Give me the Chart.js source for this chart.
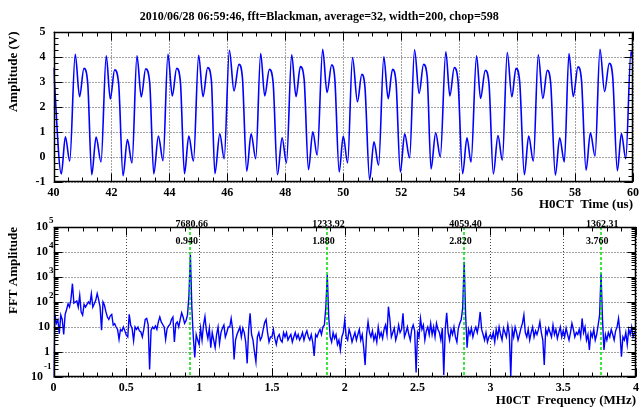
<!DOCTYPE html>
<html>
<head>
<meta charset="utf-8">
<script src="https://cdn.jsdelivr.net/npm/chart.js@4.4.0/dist/chart.umd.min.js"></script>
<style>
html, body { margin: 0; padding: 0; background: #fff; }
.box { position: relative; width: 643px; }
</style>
</head>
<body>
<div class="box" style="height:212px"><canvas id="waveCanvas"></canvas></div>
<div class="box" style="height:196px"><canvas id="fftCanvas"></canvas></div>
<script>
var titleText = '2010/06/28 06:59:46, fft=Blackman, average=32, width=200, chop=598';

// waveform (time in us, amplitude in V)
var timeUs = [40.00, 40.27, 40.41, 40.56, 40.75, 40.90, 41.05, 41.18, 41.32, 41.47, 41.64, 41.82, 41.96, 42.11, 42.25,
    42.40, 42.55, 42.71, 42.88, 43.03, 43.18, 43.32, 43.46, 43.62, 43.78, 43.95, 44.10, 44.25, 44.38, 44.52,
    44.67, 44.83, 45.01, 45.16, 45.32, 45.45, 45.57, 45.74, 45.89, 46.07, 46.23, 46.40, 46.52, 46.67, 46.82,
    46.98, 47.15, 47.29, 47.45, 47.58, 47.73, 47.89, 48.04, 48.22, 48.37, 48.52, 48.65, 48.80, 48.95, 49.10,
    49.29, 49.44, 49.60, 49.71, 49.86, 50.00, 50.15, 50.32, 50.49, 50.64, 50.75, 50.91, 51.06, 51.22, 51.40,
    51.55, 51.70, 51.82, 51.97, 52.12, 52.29, 52.46, 52.62, 52.77, 52.90, 53.03, 53.19, 53.35, 53.54, 53.68,
    53.83, 53.96, 54.12, 54.27, 54.41, 54.60, 54.74, 54.90, 55.03, 55.18, 55.34, 55.49, 55.66, 55.82, 55.96,
    56.09, 56.25, 56.40, 56.56, 56.73, 56.89, 57.04, 57.16, 57.32, 57.47, 57.63, 57.79, 57.94, 58.10, 58.22,
    58.38, 58.53, 58.69, 58.86, 59.02, 59.18, 59.30, 59.46, 59.60, 59.75, 59.93, 60.00];
var ampV = [3.56, -0.68, 0.80, -0.17, 4.09, 2.40, 3.53, 2.96, -0.71, 0.79, -0.20, 4.03, 2.31, 3.47, 2.89,
    -0.75, 0.69, -0.24, 4.03, 2.39, 3.51, 2.96, -0.68, 0.83, -0.15, 4.09, 2.43, 3.53, 2.99, -0.67,
    0.83, -0.17, 4.05, 2.40, 3.56, 3.03, -0.67, 0.92, -0.07, 4.25, 2.63, 3.69, 3.16, -0.57, 0.92,
    -0.07, 4.12, 2.43, 3.49, 2.96, -0.71, 0.76, -0.24, 4.07, 2.40, 3.60, 3.09, -0.51, 1.00, 0.07,
    4.29, 2.56, 3.67, 3.09, -0.60, 0.83, -0.24, 3.96, 2.20, 3.29, 2.76, -0.91, 0.60, -0.33, 3.99,
    2.32, 3.49, 2.99, -0.60, 0.92, -0.04, 4.27, 2.53, 3.69, 3.16, -0.48, 0.96, 0.00, 4.19, 2.43,
    3.56, 3.03, -0.67, 0.76, -0.21, 4.03, 2.33, 3.45, 2.92, -0.68, 0.85, -0.13, 4.16, 2.39, 3.53,
    2.99, -0.71, 0.83, -0.17, 4.07, 2.33, 3.45, 2.92, -0.73, 0.76, -0.20, 4.12, 2.40, 3.59, 3.09,
    -0.53, 0.96, 0.03, 4.29, 2.60, 3.73, 3.19, -0.55, 0.93, -0.07, 4.20, 3.83];

// FFT amplitude, one value every 0.01 MHz from 0 to 4 MHz
var fftStepMHz = 0.01;
var fftAmp = [
    0.08, 32, 14, 19, 5.4, 30, 20, 5, 32, 50,
    85, 63, 130, 540, 90, 100, 110, 63, 185, 40,
    30, 80, 63, 80, 100, 85, 215, 63, 85, 117,
    215, 125, 63, 7.4, 100, 74, 40, 25, 20, 28,
    32, 12, 13.5, 10, 8, 3.2, 8, 7, 10, 7,
    4.7, 4, 32, 12, 8.5, 2.8, 10, 8, 10, 7,
    6.3, 4, 8, 20, 22, 12.6, 0.2, 7.4, 10, 8.5,
    11, 8, 16, 25, 16, 12.6, 10, 3.2, 8.5, 11,
    12.6, 20, 25, 2.5, 13.5, 16, 10, 20, 37, 25,
    14, 18, 30, 180, 7680.66, 60, 4, 0.6, 5, 3,
    2, 9, 3, 12, 26, 7, 3.5, 9, 1.5, 6,
    3, 1.5, 5, 10, 2.2, 6, 9, 12, 4, 6,
    10, 10, 22, 8, 0.5, 3, 5, 7, 10, 4,
    9, 6, 2.5, 0.35, 8, 35, 5, 3, 1, 0.4,
    4, 6, 3, 4, 8, 15, 20, 6, 2.5, 4,
    4, 8, 3.5, 2, 4, 5, 3, 2.5, 6, 4,
    6, 3, 4, 5, 2.5, 4, 6, 3.5, 5, 3,
    4, 6, 3, 5, 7, 4, 3, 5, 2.5, 0.7,
    5, 4, 6, 8, 5, 10, 12, 60, 1233.92, 25,
    4, 2.5, 6, 3.5, 5, 2, 3, 1.2, 4, 6,
    19, 4, 3, 8, 5, 2.5, 4, 6, 3, 5,
    8, 3, 5, 1.5, 0.3, 5, 16, 6, 4, 7,
    3, 5, 2.5, 10, 4, 6, 3.5, 8, 12, 5,
    65, 20, 4, 6, 9, 3, 5, 12, 6, 8,
    35, 4, 6, 10, 5, 3, 8, 12, 7, 0.15,
    6, 4, 22, 8, 12, 3, 7, 10, 5, 14,
    5, 10, 4, 14, 8, 6, 3, 9, 0.12, 8,
    37, 6, 3, 8, 5, 10, 4, 2.5, 9, 14,
    20, 60, 4059.4, 30, 1.5, 8, 5, 9, 4, 7,
    10, 6, 12, 40, 8, 5, 3, 6, 2.5, 4,
    5, 3.5, 6, 2.5, 8, 4, 10, 5, 3, 9,
    6, 4, 12, 5, 0.1, 8, 4, 10, 6, 3,
    5, 9, 14, 30, 6, 4, 8, 3, 6, 10,
    4, 7, 5, 8, 16, 6, 3, 0.3, 8, 5,
    9, 6, 4, 12, 5, 8, 3.5, 6, 10, 4,
    7, 4, 9, 5, 3, 6, 14, 8, 4, 6,
    5, 8, 4, 22, 6, 10, 3, 5, 1.2, 6,
    4, 8, 3, 5, 12, 30, 1362.31, 20, 1.2, 5,
    3, 6, 4, 8, 5, 3, 7, 10, 22, 6,
    0.65, 4, 3, 6, 2, 8, 5, 10, 4, 6,
    7];

var peakMHz = [0.94, 1.88, 2.82, 3.76];
var peakAmpLabels = ['7680.66', '1233.92', '4059.40', '1362.31'];
var peakFreqLabels = ['0.940', '1.880', '2.820', '3.760'];
var fftDecades = [-1, 0, 1, 2, 3, 4, 5];

Chart.defaults.font.family = '"Liberation Serif", "DejaVu Serif", serif';
Chart.defaults.font.size = 12;
Chart.defaults.font.weight = 'bold';
Chart.defaults.color = '#000';

function steps(from, to, step) {
    var out = [];
    for (var v = from; v <= to + step / 1000; v += step) out.push(Math.round(v * 1000) / 1000);
    return out;
}

function plainTick(v) {
    return String(Math.round(v * 100) / 100);
}

// ROOT style frame: dotted grid, box, ticks inside on all four sides
var rootFrame = {
    id: 'rootFrame',
    beforeDatasetsDraw: function (chart, args, o) {
        var ctx = chart.ctx, a = chart.chartArea, xs = chart.scales.x, ys = chart.scales.y;
        ctx.save();
        ctx.strokeStyle = '#444';
        ctx.lineWidth = 1;
        ctx.setLineDash([1, 2]);
        ctx.beginPath();
        o.xGrid.forEach(function (v) {
            var px = Math.round(xs.getPixelForValue(v)) + 0.5;
            ctx.moveTo(px, a.top); ctx.lineTo(px, a.bottom);
        });
        o.yGrid.forEach(function (v) {
            var py = Math.round(ys.getPixelForValue(v)) + 0.5;
            ctx.moveTo(a.left, py); ctx.lineTo(a.right, py);
        });
        ctx.stroke();
        ctx.restore();
    },
    afterDraw: function (chart, args, o) {
        var ctx = chart.ctx, a = chart.chartArea, xs = chart.scales.x, ys = chart.scales.y;
        var L = Math.round(a.left) + 0.5, R = Math.round(a.right) - 0.5;
        var T = Math.round(a.top) + 0.5, B = Math.round(a.bottom) - 0.5;
        ctx.save();
        ctx.strokeStyle = '#000';
        ctx.lineWidth = 1;
        ctx.beginPath();
        function xt(list, len) {
            list.forEach(function (v) {
                var px = Math.round(xs.getPixelForValue(v)) + 0.5;
                ctx.moveTo(px, B); ctx.lineTo(px, B - len);
                ctx.moveTo(px, T); ctx.lineTo(px, T + len);
            });
        }
        function yt(list, len) {
            list.forEach(function (v) {
                var py = Math.round(ys.getPixelForValue(v)) + 0.5;
                ctx.moveTo(L, py); ctx.lineTo(L + len, py);
                ctx.moveTo(R, py); ctx.lineTo(R - len, py);
            });
        }
        xt(o.xMinor, 4); xt(o.xGrid, 8);
        yt(o.yMinor, 4); yt(o.yGrid, 8);
        ctx.stroke();
        ctx.lineWidth = 1.5;
        ctx.strokeRect(L, T, R - L, B - T);
        ctx.restore();
    }
};

// peak markers and the log axis labels of the FFT panel
var fftMarks = {
    id: 'fftMarks',
    afterDatasetsDraw: function (chart) {
        var ctx = chart.ctx, a = chart.chartArea, xs = chart.scales.x;
        ctx.save();
        ctx.strokeStyle = '#00e000';
        ctx.lineWidth = 1.5;
        ctx.setLineDash([3, 2]);
        ctx.beginPath();
        peakMHz.forEach(function (f) {
            var px = Math.round(xs.getPixelForValue(f));
            ctx.moveTo(px, a.top); ctx.lineTo(px, a.bottom);
        });
        ctx.stroke();
        ctx.restore();
    },
    afterDraw: function (chart) {
        var ctx = chart.ctx, a = chart.chartArea, xs = chart.scales.x, ys = chart.scales.y;
        ctx.save();
        ctx.fillStyle = '#000';
        ctx.font = 'bold 10px "Liberation Serif", serif';
        ctx.textAlign = 'left';
        ctx.textBaseline = 'middle';
        peakMHz.forEach(function (f, i) {
            var px = xs.getPixelForValue(f) - 15;
            ctx.fillText(peakAmpLabels[i], px, a.top - 3);
            ctx.fillText(peakFreqLabels[i], px, a.top + 14);
        });
        fftDecades.forEach(function (k) {
            var py = ys.getPixelForValue(Math.pow(10, k));
            ctx.textAlign = 'right';
            ctx.font = 'bold 12px "Liberation Serif", serif';
            if (k === 0) { ctx.fillText('1', 50, py); return; }
            if (k === 1) { ctx.fillText('10', 50, py); return; }
            var base = k === -1 ? 43 : 48;
            ctx.fillText('10', base, py);
            ctx.textAlign = 'left';
            ctx.font = 'bold 9px "Liberation Serif", serif';
            ctx.fillText(String(k), base + 1, py - (k === -1 ? 10 : 6));
        });
        ctx.restore();
    }
};

new Chart(document.getElementById('waveCanvas'), {
    type: 'line',
    data: {
        datasets: [{
            data: timeUs.map(function (t, i) { return { x: t, y: ampV[i] }; }),
            borderColor: 'rgb(0,0,255)',
            borderWidth: 1.6,
            pointRadius: 0,
            cubicInterpolationMode: 'monotone'
        }]
    },
    options: {
        responsive: true,
        maintainAspectRatio: false,
        animation: false,
        layout: { padding: { left: 0, right: 4.5, top: 0, bottom: 0 } },
        plugins: {
            legend: { display: false },
            tooltip: { enabled: false },
            title: {
                display: true,
                text: titleText,
                font: { size: 12, weight: 'bold' },
                padding: { top: 10, bottom: 7.1 }
            },
            rootFrame: {
                xGrid: steps(40, 60, 2), xMinor: steps(40, 60, 0.5),
                yGrid: steps(-1, 5, 1), yMinor: steps(-1, 5, 0.25)
            }
        },
        scales: {
            x: {
                type: 'linear', min: 40, max: 60,
                grid: { display: false, drawTicks: false },
                border: { display: false },
                ticks: { stepSize: 2, padding: 4, maxRotation: 0, autoSkip: false, callback: plainTick },
                title: { display: true, text: 'H0CT  Time (us)', align: 'end', font: { size: 13, weight: 'bold' }, padding: 0 },
                afterFit: function (s) { s.height = 30; }
            },
            y: {
                min: -1, max: 5,
                grid: { display: false, drawTicks: false },
                border: { display: false },
                ticks: { stepSize: 1, padding: 8, callback: plainTick },
                title: { display: true, text: 'Amplitude (V)', align: 'end', font: { size: 13, weight: 'bold' }, padding: { top: 6, bottom: 0 } },
                afterFit: function (s) { s.width = 53.5; }
            }
        }
    },
    plugins: [rootFrame]
});

new Chart(document.getElementById('fftCanvas'), {
    type: 'line',
    data: {
        datasets: [{
            data: fftAmp.map(function (v, i) { return { x: i * fftStepMHz, y: v }; }),
            borderColor: 'rgb(0,0,255)',
            borderWidth: 1.4,
            pointRadius: 0,
            tension: 0
        }]
    },
    options: {
        responsive: true,
        maintainAspectRatio: false,
        animation: false,
        layout: { padding: { left: 0, right: 4.5, top: 15, bottom: 0 } },
        plugins: {
            legend: { display: false },
            tooltip: { enabled: false },
            rootFrame: {
                xGrid: steps(0, 4, 0.5), xMinor: steps(0, 4, 0.1),
                yGrid: fftDecades.map(function (k) { return Math.pow(10, k); }),
                yMinor: [].concat.apply([], fftDecades.slice(0, -1).map(function (k) {
                    return [2, 3, 4, 5, 6, 7, 8, 9].map(function (m) { return m * Math.pow(10, k); });
                }))
            }
        },
        scales: {
            x: {
                type: 'linear', min: 0, max: 4,
                grid: { display: false, drawTicks: false },
                border: { display: false },
                ticks: { stepSize: 0.5, padding: 4, maxRotation: 0, autoSkip: false, callback: plainTick },
                title: { display: true, text: 'H0CT  Frequency (MHz)', align: 'end', font: { size: 13, weight: 'bold' }, padding: 0 },
                afterFit: function (s) { s.height = 31; }
            },
            y: {
                type: 'logarithmic', min: 0.1, max: 100000,
                grid: { display: false, drawTicks: false },
                border: { display: false },
                ticks: { display: false },
                afterBuildTicks: function (s) {
                    s.ticks = fftDecades.map(function (k) { return { value: Math.pow(10, k) }; });
                },
                title: { display: true, text: 'FFT Amplitude', align: 'end', font: { size: 13, weight: 'bold' }, padding: { top: 6, bottom: 0 } },
                afterFit: function (s) { s.width = 53.5; }
            }
        }
    },
    plugins: [rootFrame, fftMarks]
});
</script>
</body>
</html>
